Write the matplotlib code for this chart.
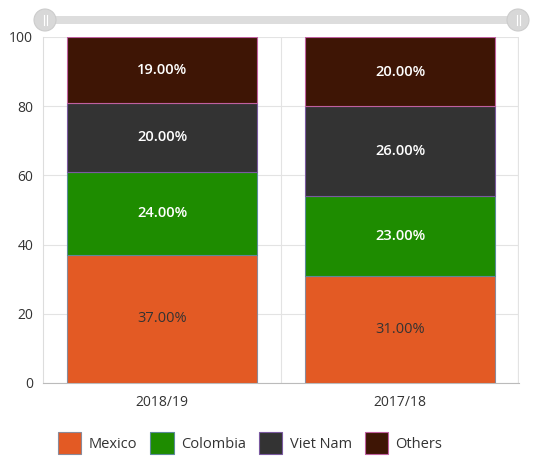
import matplotlib
matplotlib.use("Agg")
import matplotlib.pyplot as plt
from matplotlib.patches import Patch, FancyBboxPatch, Circle
import numpy as np

plt.rcParams["font.family"] = ["Open Sans", "DejaVu Sans"]

seasons = ["2018/19", "2017/18"]
countries = ["Mexico", "Colombia", "Viet Nam", "Others"]
mexico = [37, 31]
colombia = [24, 23]
viet_nam = [20, 26]
others = [19, 20]

fills = ["#E35A24", "#1E8C00", "#333333", "#3E1505"]
edges = ["#8A8A9A", "#5C8A9A", "#7A5AA0", "#C060A0"]
text_colors = ["#333333", "white", "white", "white"]

fig = plt.figure(figsize=(5.44, 4.67), dpi=100)
ax = fig.add_axes([43 / 544, 1 - 383 / 467, 476 / 544, 346 / 467])

x = np.arange(len(seasons))
bottom = np.zeros(len(seasons))
for name, vals, fc, ec, tc in zip(countries, [mexico, colombia, viet_nam, others],
                                  fills, edges, text_colors):
    vals = np.array(vals, dtype=float)
    bars = ax.bar(x, vals, width=0.8, bottom=bottom, color=fc, edgecolor=ec,
                  linewidth=0.8, zorder=3)
    for b, v in zip(bars, vals):
        ax.text(b.get_x() + b.get_width() / 2, b.get_y() + v / 2,
                f"{v:.2f}%", ha="center", va="center", color=tc,
                fontsize=10.5, fontweight="semibold" if tc == "white" else "normal",
                zorder=4)
    bottom += vals

ax.set_xlim(-0.5, 1.5)
ax.set_ylim(0, 100)
ax.set_yticks(range(0, 101, 20))
ax.set_xticks(x)
ax.set_xticklabels(seasons)
ax.tick_params(axis="both", length=0, labelsize=10, colors="#333333")
ax.tick_params(axis="x", pad=9)
ax.tick_params(axis="y", pad=7)
ax.grid(axis="y", color="#E3E3E3", linewidth=0.8, zorder=0)
ax.axvline(0.5, color="#E3E3E3", linewidth=0.8, zorder=0)
ax.axvline(1.5, color="#E3E3E3", linewidth=1.6, zorder=0)
for side in ["top", "right"]:
    ax.spines[side].set_visible(False)
ax.spines["left"].set_color("#DDDDDD")
ax.spines["bottom"].set_color("#BBBBBB")

# scroll bar on top
fig.patches.append(FancyBboxPatch((45 / 544, 1 - 24 / 467), 473 / 544, 8 / 467,
                                  boxstyle="square,pad=0", transform=fig.transFigure,
                                  facecolor="#DDDDDD", edgecolor="none"))
for cx in [45, 518]:
    fig.patches.append(Circle((cx, 467 - 20), 11, transform=None,
                              facecolor="#D8D8D8", edgecolor="#CCCCCC", linewidth=0.8))
    for dx in (-1.5, 1.5):
        fig.add_artist(plt.Line2D([(cx + dx) / 544] * 2,
                                  [1 - 25 / 467, 1 - 15 / 467],
                                  color="white", linewidth=0.8))

handles = [Patch(facecolor=fc, edgecolor=ec, linewidth=0.8) for fc, ec in zip(fills, edges)]
fig.legend(handles, countries, loc="center", bbox_to_anchor=(0.46, 1 - 443 / 467),
           ncol=4, frameon=False, fontsize=10.5, handlelength=1.6, handleheight=2.0,
           columnspacing=0.9, handletextpad=0.5, labelcolor="#333333")

fig.savefig("out.png", dpi=100)
